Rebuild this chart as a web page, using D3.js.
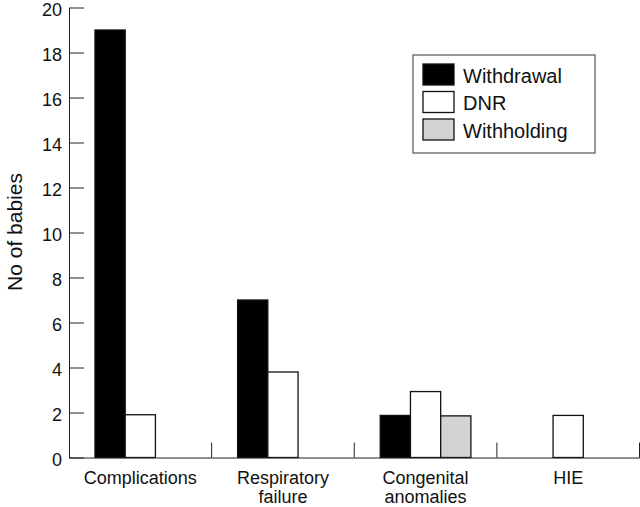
<!DOCTYPE html>
<html>
<head>
<meta charset="utf-8">
<script src="https://cdn.jsdelivr.net/npm/d3@7"></script>
<style>
  body { margin: 0; background: #fff; }
  text { font-family: "Liberation Sans", Arial, sans-serif; fill: #111; }
</style>
</head>
<body>
<div id="chart"></div>
<script>
// values
var categories = ["Complications", "Respiratory failure", "Congenital anomalies", "HIE"];
var seriesNames = ["Withdrawal", "DNR", "Withholding"];
var withdrawal = [19, 7, 1.87, 0];
var dnr = [1.9, 3.8, 2.93, 1.87];
var withholding = [0, 0, 1.85, 0];
var yTicks = [0, 2, 4, 6, 8, 10, 12, 14, 16, 18, 20];
var fills = { "Withdrawal": "#000", "DNR": "#fff", "Withholding": "#d3d3d3" };

var seriesValues = { "Withdrawal": withdrawal, "DNR": dnr, "Withholding": withholding };

var width = 640, height = 507;

var svg = d3.select("#chart")
    .append("svg")
    .attr("width", width)
    .attr("height", height);

var x0 = d3.scaleBand().domain(categories).range([69, 639.5]).padding(0);
var x1 = d3.scaleBand().domain(seriesNames).range([0, x0.bandwidth()])
    .paddingInner(0).paddingOuter(0.86);
var y = d3.scaleLinear().domain([0, 20]).range([457.5, 7.5]);

// bars
var rows = [];
categories.forEach(function (c, i) {
    seriesNames.forEach(function (s) {
        var v = seriesValues[s][i];
        if (v > 0) rows.push({ cat: c, series: s, value: v });
    });
});

svg.append("g").selectAll("rect")
    .data(rows)
    .enter().append("rect")
    .attr("x", function (d) { return x0(d.cat) + x1(d.series); })
    .attr("y", function (d) { return y(d.value); })
    .attr("width", x1.bandwidth())
    .attr("height", function (d) { return y(0) - y(d.value); })
    .attr("fill", function (d) { return fills[d.series]; })
    .attr("stroke", "#111")
    .attr("stroke-width", 1.3);

// y axis, ticks point inward
var yAxis = svg.append("g")
    .attr("transform", "translate(69,0)")
    .call(d3.axisLeft(y).tickValues(yTicks).tickSizeInner(-15).tickSizeOuter(0).tickPadding(7));
yAxis.select(".domain").attr("stroke", "#222");
yAxis.selectAll(".tick line").attr("stroke", "#222");
yAxis.selectAll(".tick text")
    .attr("dy", "0.42em")
    .style("font-size", "18px")
    .attr("fill", "#111");

// x axis baseline and category labels
var xAxis = svg.append("g")
    .attr("transform", "translate(0," + y(0) + ")")
    .call(d3.axisBottom(x0).tickSize(0).tickPadding(0));
xAxis.select(".domain").attr("stroke", "#222");
xAxis.selectAll(".tick text").each(function (d) {
    var t = d3.select(this);
    t.text(null).attr("y", 0).attr("dy", null).style("font-size", "18px").attr("fill", "#111");
    d.split(" ").forEach(function (w, i) {
        t.append("tspan").attr("x", 0).attr("y", 26.5 + i * 19).text(w);
    });
});

// separators between categories
svg.append("g").selectAll("line")
    .data(categories)
    .enter().append("line")
    .attr("x1", function (d) { return x0(d) + x0.step(); })
    .attr("x2", function (d) { return x0(d) + x0.step(); })
    .attr("y1", y(0))
    .attr("y2", y(0) - 15)
    .attr("stroke", "#222");

// y label
svg.append("text")
    .attr("transform", "translate(22," + 232 + ") rotate(-90)")
    .attr("text-anchor", "middle")
    .style("font-size", "21px")
    .text("No of babies");

// legend
var legend = svg.append("g").attr("transform", "translate(413,55)");
legend.append("rect")
    .attr("width", 182)
    .attr("height", 98)
    .attr("fill", "#fff")
    .attr("stroke", "#333")
    .attr("stroke-width", 1);

var item = legend.selectAll(".item")
    .data(seriesNames)
    .enter().append("g")
    .attr("class", "item")
    .attr("transform", function (d, i) { return "translate(10," + (9 + i * 27.5) + ")"; });

item.append("rect")
    .attr("width", 31)
    .attr("height", 21)
    .attr("fill", function (d) { return fills[d]; })
    .attr("stroke", "#111")
    .attr("stroke-width", 1.3);

item.append("text")
    .attr("x", 40)
    .attr("y", 18.5)
    .style("font-size", "20px")
    .text(function (d) { return d; });
</script>
</body>
</html>
